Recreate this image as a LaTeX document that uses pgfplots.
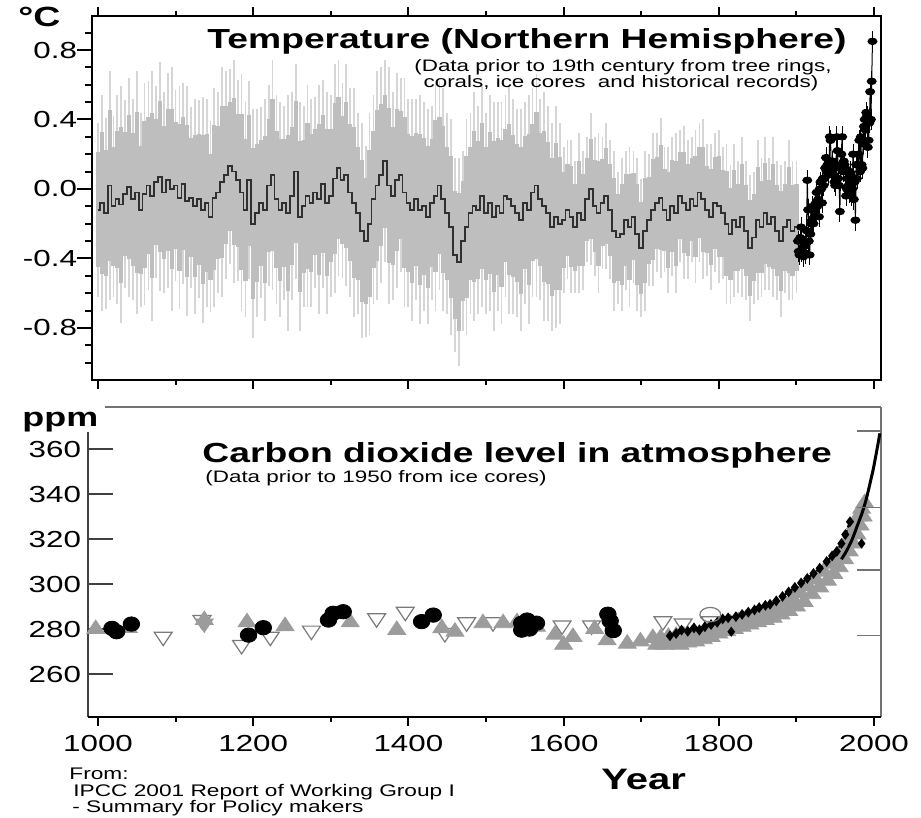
\documentclass[border=0pt]{standalone}
\usepackage{pgfplots}
\pgfplotsset{compat=1.18}
\usepackage{pgfplotstable}
\usepackage{fontspec}
\setmainfont{Liberation Sans}[FakeStretch=1.35]
\definecolor{lightband}{HTML}{D6D6D6}
\definecolor{midband}{HTML}{BEBEBE}
\definecolor{meanline}{HTML}{303030}
\definecolor{trigray}{HTML}{9C9C9C}
\definecolor{opengray}{HTML}{7A7A7A}

\pgfplotstableread{
yr m e
1000 -0.12 0.50
1005 -0.08 0.62
1010 -0.14 0.55
1015 0.02 0.66
1020 -0.10 0.52
1025 -0.06 0.60
1030 -0.09 0.68
1035 -0.03 0.54
1040 0.01 0.63
1045 -0.06 0.58
1050 -0.02 0.70
1055 -0.12 0.56
1060 -0.03 0.64
1065 0.02 0.60
1070 -0.04 0.72
1075 0.04 0.55
1080 0.07 0.66
1085 -0.02 0.58
1090 0.05 0.62
1095 0.00 0.70
1100 0.02 0.55
1105 -0.05 0.64
1110 0.03 0.58
1115 -0.07 0.66
1120 -0.05 0.52
1125 -0.10 0.62
1130 -0.06 0.57
1135 -0.12 0.65
1140 -0.08 0.60
1145 -0.16 0.55
1150 -0.05 0.63
1155 -0.02 0.58
1160 0.04 0.66
1165 0.08 0.60
1170 0.13 0.56
1175 0.10 0.64
1180 0.05 0.58
1185 -0.02 0.68
1190 -0.12 0.62
1195 0.05 0.57
1200 -0.20 0.66
1205 -0.14 0.60
1210 -0.08 0.55
1215 -0.12 0.64
1220 0.02 0.58
1225 0.08 0.66
1230 -0.06 0.60
1235 -0.12 0.62
1240 -0.08 0.56
1245 -0.14 0.68
1250 -0.04 0.60
1255 0.10 0.62
1260 -0.16 0.66
1265 -0.10 0.58
1270 -0.04 0.64
1275 -0.08 0.60
1280 -0.02 0.55
1285 -0.06 0.66
1290 0.03 0.60
1295 -0.08 0.64
1300 -0.04 0.58
1305 0.06 0.66
1310 0.12 0.62
1315 0.05 0.56
1320 0.08 0.64
1325 -0.02 0.60
1330 -0.08 0.66
1335 -0.14 0.58
1340 -0.24 0.62
1345 -0.30 0.55
1350 -0.20 0.64
1355 -0.06 0.60
1360 0.02 0.66
1365 0.08 0.62
1370 0.16 0.58
1375 0.02 0.68
1380 -0.04 0.60
1385 0.05 0.62
1390 0.08 0.56
1395 -0.02 0.66
1400 -0.08 0.60
1405 -0.12 0.64
1410 -0.06 0.58
1415 -0.12 0.66
1420 -0.10 0.60
1425 -0.16 0.62
1430 -0.08 0.56
1435 -0.04 0.66
1440 0.02 0.60
1445 -0.06 0.64
1450 -0.14 0.58
1455 -0.22 0.62
1460 -0.38 0.56
1465 -0.42 0.60
1470 -0.30 0.52
1475 -0.22 0.62
1480 -0.14 0.58
1485 -0.10 0.66
1490 -0.12 0.60
1495 -0.04 0.64
1500 -0.14 0.58
1505 -0.08 0.62
1510 -0.16 0.66
1515 -0.10 0.60
1520 -0.14 0.64
1525 -0.04 0.58
1530 -0.06 0.66
1535 -0.10 0.62
1540 -0.14 0.60
1545 -0.18 0.64
1550 -0.08 0.58
1555 -0.12 0.66
1560 -0.02 0.60
1565 0.02 0.64
1570 -0.06 0.58
1575 -0.10 0.66
1580 -0.14 0.62
1585 -0.22 0.60
1590 -0.16 0.64
1595 -0.20 0.58
1600 -0.18 0.42
1605 -0.12 0.40
1610 -0.16 0.44
1615 -0.22 0.38
1620 -0.14 0.46
1625 -0.18 0.40
1630 -0.06 0.36
1635 0.00 0.44
1640 -0.10 0.40
1645 -0.14 0.46
1650 -0.08 0.38
1655 -0.04 0.42
1660 -0.12 0.40
1665 -0.24 0.46
1670 -0.28 0.38
1675 -0.26 0.44
1680 -0.18 0.40
1685 -0.22 0.46
1690 -0.16 0.38
1695 -0.26 0.44
1700 -0.34 0.40
1705 -0.24 0.46
1710 -0.18 0.38
1715 -0.12 0.44
1720 -0.08 0.40
1725 -0.05 0.46
1730 -0.12 0.36
1735 -0.18 0.42
1740 -0.10 0.40
1745 -0.14 0.46
1750 -0.04 0.38
1755 -0.08 0.44
1760 -0.12 0.40
1765 -0.06 0.36
1770 -0.10 0.44
1775 -0.02 0.40
1780 -0.06 0.46
1785 -0.12 0.38
1790 -0.16 0.42
1795 -0.08 0.40
1800 -0.10 0.44
1805 -0.14 0.38
1810 -0.20 0.46
1815 -0.26 0.40
1820 -0.18 0.44
1825 -0.22 0.38
1830 -0.16 0.46
1835 -0.24 0.40
1840 -0.34 0.42
1845 -0.28 0.38
1850 -0.18 0.46
1855 -0.22 0.40
1860 -0.14 0.44
1865 -0.20 0.38
1870 -0.16 0.46
1875 -0.24 0.40
1880 -0.30 0.44
1885 -0.22 0.38
1890 -0.18 0.46
1895 -0.24 0.40
1900 -0.22 0.38
}\recon

\pgfplotstableread{
yr t
1902 -0.30
1903 -0.36
1904 -0.38
1905 -0.28
1906 -0.22
1907 -0.36
1908 -0.34
1909 -0.39
1910 -0.33
1911 -0.37
1912 -0.30
1913 -0.24
1914 0.05
1915 -0.12
1916 -0.30
1917 -0.38
1918 -0.26
1919 -0.20
1920 -0.18
1921 -0.10
1922 -0.20
1923 -0.16
1924 -0.14
1925 -0.08
1926 -0.02
1927 -0.10
1928 -0.06
1929 -0.16
1930 0.00
1931 0.04
1932 0.00
1933 -0.08
1934 0.06
1935 0.02
1936 0.06
1937 0.12
1938 0.18
1939 0.10
1940 0.14
1941 0.08
1942 0.16
1943 0.30
1944 0.28
1945 0.12
1946 0.10
1947 0.16
1948 0.08
1949 0.04
1950 0.02
1951 0.14
1952 0.30
1953 0.22
1954 0.06
1955 0.02
1956 -0.13
1957 0.12
1958 0.20
1959 0.30
1960 0.10
1961 0.16
1962 0.14
1963 0.12
1964 -0.04
1965 0.00
1966 0.06
1967 0.02
1968 -0.02
1969 0.10
1970 0.08
1971 -0.04
1972 0.00
1973 0.20
1974 -0.06
1975 0.04
1976 -0.18
1977 0.14
1978 0.06
1979 0.14
1980 0.20
1981 0.28
1982 0.10
1983 0.30
1984 0.14
1985 0.12
1986 0.26
1987 0.36
1988 0.40
1989 0.34
1990 0.44
1991 0.42
1992 0.24
1993 0.28
1994 0.38
1995 0.56
1996 0.40
1997 0.62
1998 0.85
}\inst

\begin{document}
\begin{tikzpicture}
\useasboundingbox (0,0) rectangle (460.5pt,409pt);

% ---------------- Temperature panel ----------------
\begin{axis}[
  at={(46pt,219pt)}, anchor=south west,
  scale only axis, width=394.5pt, height=182pt,
  xmin=992.3, xmax=2009, ymin=-1.1, ymax=0.996,
  xtick=\empty,
  ytick={-0.8,-0.4,0,0.4,0.8},
  yticklabels={-0.8,-0.4,0.0,0.4,0.8},
  minor ytick={-1.0,-0.9,-0.7,-0.6,-0.5,-0.3,-0.2,-0.1,0.1,0.2,0.3,0.5,0.6,0.7,0.9},
  ytick pos=left, tick align=outside,
  major tick length=7.5pt, minor tick length=3.5pt,
  tick style={black, line width=1pt},
  yticklabel style={font=\fontsize{11.6}{13}\selectfont, xshift=3.5pt},
  axis line style={line width=1.2pt},
]
\addplot[draw=none, mark=none, forget plot,
  error bars/.cd, y dir=both, y explicit, error mark=none,
  error bar style={draw=lightband, line width=0.9pt}]
  table[x=yr, y=m, y error=e] {\recon};
\addplot[draw=none, mark=none, forget plot,
  error bars/.cd, y dir=both, y explicit, error mark=none,
  error bar style={draw=midband, line width=2.1pt}]
  table[x=yr, y=m, y error expr=0.66*\thisrow{e}] {\recon};
\addplot[draw=meanline, line width=0.9pt, mark=none, const plot mark mid] table[x=yr, y=m] {\recon};
\addplot[black, line width=0.5pt, mark=*, mark size=1.6pt,
  mark options={xscale=1.4},
  error bars/.cd, y dir=both, y fixed=0.06, error mark=none,
  error bar style={line width=0.4pt, black}]
  table[x=yr, y=t] {\inst};
\end{axis}
% x ticks of temperature panel
\begin{axis}[
  at={(46pt,219pt)}, anchor=south west,
  scale only axis, width=394.5pt, height=182pt,
  xmin=992.3, xmax=2009, ymin=-1.1, ymax=0.996,
  ytick=\empty, xtick={1000,1200,...,2000}, xticklabels={},
  minor xtick={1100,1300,1500,1700,1900},
  tick align=outside, major tick length=4.5pt, minor tick length=2.5pt,
  tick style={black, line width=1pt},
  axis line style={draw=none},
]
\end{axis}

% ---------------- CO2 panel ----------------
\begin{axis}[
  at={(44pt,50.5pt)}, anchor=south west,
  scale only axis, width=396.5pt, height=155pt,
  xmin=987.1, xmax=2009, ymin=240.9, ymax=378.7,
  xtick=\empty,
  ytick={260,280,300,320,340,360},
  yticklabels={260,280,300,320,340,360},
  ytick pos=left, tick align=inside, major tick length=12.5pt,
  tick style={black!75, line width=0.6pt},
  yticklabel style={font=\fontsize{11.6}{13}\selectfont},
  axis line style={draw=none},
  clip mode=individual,
]
% frame pieces
\draw[black!75, line width=0.6pt] (axis cs:987.1,240.9) -- (axis cs:987.1,367.6);
\draw[black!55, line width=0.6pt] (axis cs:2009,240.9) -- (axis cs:2009,378.7);
\draw[black!55, line width=0.6pt] (axis cs:1009,378.7) -- (axis cs:2009,378.7);
\draw[black, line width=1.2pt] (axis cs:987.1,240.9) -- (axis cs:2009,240.9);
% open inverted triangles
\addplot[only marks, mark=triangle*, mark size=4.5pt,
  mark options={rotate=180, xscale=1.15, fill=white, draw=opengray, line width=0.6pt}]
  coordinates {(1084,276.6) (1134,284) (1185,272.9) (1222,276.6) (1275,279.3)
  (1359,284.8) (1396,287.7) (1447,278.2) (1475,283) (1509,283) (1598,281.6)
  (1636,281.6) (1728,283.5) (1754,282.5) (1789,283.5)};
% gray inverted triangle (star)
\addplot[only marks, mark=triangle*, mark size=4.5pt,
  mark options={rotate=180, xscale=1.15, fill=trigray, draw=trigray}]
  coordinates {(1137,282.5)};
% gray up triangles
\addplot[only marks, mark=triangle*, mark size=4.5pt,
  mark options={xscale=1.15, fill=trigray, draw=trigray}]
  coordinates {(997,280) (1039,280.5) (1137,284) (1192,283) (1241,281.3)
  (1325,283) (1385,279.6) (1443,280.4) (1460,278.8) (1496,282.6) (1522,282.6)
  (1540,283) (1565,281) (1589,277.5) (1600,273) (1612,276.5) (1640,280)
  (1656,275) (1682,273.5) (1699,274.5) (1715,276)
  (1725,276) (1735,276.5) (1745,277) (1755,277) (1765,277.5) (1775,278)
  (1785,279) (1795,280) (1805,281.5) (1815,282.5) (1825,283.5) (1835,284.5)
  (1845,285.5) (1855,286.5) (1865,288) (1875,289.5) (1885,291.5) (1895,293.5)
  (1905,296) (1915,299) (1925,302) (1935,305.5) (1945,309) (1953,312.5)
  (1960,316) (1966,319.5) (1971,323) (1976,326.5) (1980,330) (1984,333.5) (1988,336)
  (1720,273) (1730,273) (1740,273.5) (1750,273) (1760,274) (1770,274.5)
  (1780,275.5) (1790,276.5) (1800,278) (1810,279) (1820,280) (1830,281)
  (1840,282) (1850,283) (1860,284) (1870,285) (1880,286.5) (1890,288)
  (1900,290) (1910,292) (1920,295.5) (1930,298.5) (1940,301.5) (1948,304.5)
  (1955,307.5) (1962,311) (1968,314.5) (1973,318) (1978,322) (1982,326) (1986,330)};
% black filled circles
\addplot[only marks, mark=*, mark size=3.6pt, mark options={xscale=1.15, fill=black, draw=black}]
  coordinates {(1018,280.3) (1024,278.8) (1043,282.2) (1194,277.3) (1213,280.6)
  (1297,284) (1303,287) (1316,287.7) (1417,283.3) (1432,286.2) (1546,282.6)
  (1553,284) (1565,282.6) (1546,279.5) (1556,280) (1657,286.6) (1660,283.6) (1664,279.3)};
% black diamonds (dashed)
\addplot[black, line width=1.1pt, dash pattern=on 4pt off 1.5pt, mark=diamond*, mark size=1.8pt,
  mark options={solid}]
  coordinates {(1737,277) (1745,278) (1752,279.5) (1760,279) (1768,280.5) (1775,279.5)
  (1782,281) (1790,282) (1798,283) (1805,284.5) (1812,285) (1822,285.5) (1830,286.5)
  (1838,287.5) (1846,288.5) (1852,289.5) (1860,290.5) (1866,291) (1874,292.5)
  (1882,294.5) (1890,296.5) (1898,298.5) (1906,300.5) (1914,302.5) (1922,304.7)
  (1930,307) (1939,310) (1946,312.5) (1952,314.5) (1958,318) (1963,322) (1969,327.7)};
\addplot[only marks, mark=diamond*, mark size=2.2pt, black]
  coordinates {(1816,278.8) (1984,318)};
% Mauna Loa line
\addplot[black, line width=1.5pt, mark=none, smooth]
  coordinates {(1958,311) (1965,315) (1972,320) (1978,325.5) (1984,331) (1989,336.5)
  (1993,342) (1996,346.5) (1999,351) (2002,356.5) (2005,362) (2007.5,367)};
% open circle
\addplot[only marks, mark=o, mark size=3.6pt, mark options={xscale=1.45, draw=opengray, line width=0.6pt}]
  coordinates {(1789,286.4)};
\end{axis}
% x ticks of CO2 panel
\begin{axis}[
  at={(44pt,50.5pt)}, anchor=south west,
  scale only axis, width=396.5pt, height=155pt,
  xmin=987.1, xmax=2009, ymin=240.9, ymax=378.7,
  ytick=\empty, xtick={1000,1200,...,2000},
  xticklabels={1000,1200,1400,1600,1800,2000},
  minor xtick={1100,1300,1500,1700,1900},
  xtick pos=bottom, tick align=outside, major tick length=4.5pt, minor tick length=2.5pt,
  tick style={black, line width=1pt},
  xticklabel style={font=\fontsize{11.6}{13}\selectfont, yshift=-1pt},
  axis line style={draw=none},
]
\end{axis}
% right-hand ticks of CO2 panel
\begin{axis}[
  at={(44pt,50.5pt)}, anchor=south west,
  scale only axis, width=396.5pt, height=155pt,
  xmin=987.1, xmax=2009, ymin=240.9, ymax=378.7,
  xtick=\empty, ytick={277.3,306.2,334.2,368}, yticklabels={},
  ytick pos=right, tick align=inside, major tick length=12pt,
  tick style={black!55, line width=0.6pt},
  axis line style={draw=none},
]
\end{axis}

% ---------------- texts ----------------
\node[anchor=base west, inner sep=0pt, font=\bfseries\fontsize{13.9}{16}\selectfont] at (9pt,395.5pt) {°C};
\node[anchor=base west, inner sep=0pt, font=\bfseries\fontsize{13.8}{16}\selectfont] at (103.5pt,384.5pt) {Temperature (Northern Hemisphere)};
\node[anchor=base, inner sep=0pt, font=\fontsize{8.3}{9}\selectfont] at (311.5pt,373pt) {(Data prior to 19th century from tree rings,};
\node[anchor=base, inner sep=0pt, font=\fontsize{8.3}{9}\selectfont] at (310.5pt,365pt) {corals, ice cores~ and historical records)};

\node[anchor=base west, inner sep=0pt, font=\bfseries\fontsize{13.3}{16}\selectfont] at (11pt,195.5pt) {ppm};
\node[anchor=base west, inner sep=0pt, font=\bfseries\fontsize{13.8}{16}\selectfont] at (101pt,177.5pt) {Carbon dioxide level in atmosphere};
\node[anchor=base west, inner sep=0pt, font=\fontsize{8.3}{9}\selectfont] at (102.5pt,167.5pt) {(Data prior to 1950 from ice cores)};

\node[anchor=base west, inner sep=0pt, font=\bfseries\fontsize{14.8}{16}\selectfont] at (300.5pt,14pt) {Year};
\node[anchor=base west, inner sep=0pt, font=\fontsize{8.4}{9}\selectfont] at (34.5pt,19pt) {From:};
\node[anchor=base west, inner sep=0pt, font=\fontsize{8.4}{9}\selectfont] at (36.5pt,10.5pt) {IPCC 2001 Report of Working Group I};
\node[anchor=base west, inner sep=0pt, font=\fontsize{8.4}{9}\selectfont] at (36pt,2.5pt) {- Summary for Policy makers};
\end{tikzpicture}
\end{document}
